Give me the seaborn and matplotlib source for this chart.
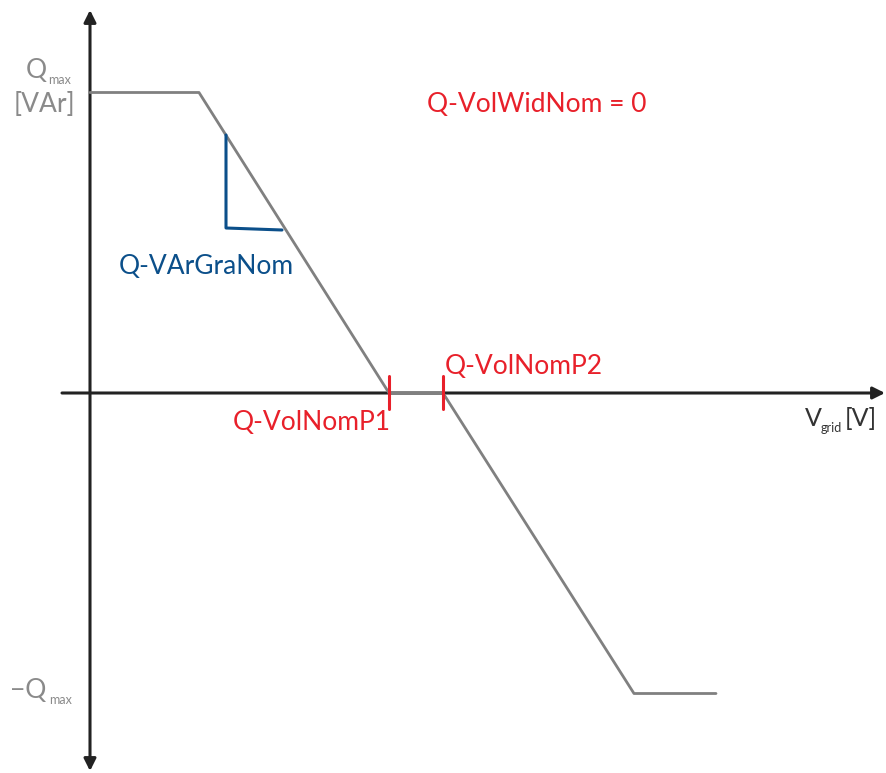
import matplotlib
matplotlib.use("Agg")
import matplotlib.pyplot as plt
import seaborn as sns
import pandas as pd

sns.set_theme(style="white")
plt.rcParams['font.family'] = ['Lato', 'DejaVu Sans']

# Characteristic curve (V in arbitrary units, Q normalized to Qmax)
v_grid = [0, 109, 299, 353, 544, 626]
q_val = [1, 1, 0, 0, -1, -1]
p1_v = 299
p2_v = 353

GREY = "#808080"
RED = "#e8202a"
BLUE = "#0b4f8a"
AX = "#222222"
TXT = "#8a8a8a"

S = 300.5  # pixels per Qmax unit


def px(xp, yp):
    return xp - 90, (393 - yp) / S


fig = plt.figure(figsize=(8.86, 7.73), dpi=100)
ax = fig.add_axes([0, 0, 1, 1])
ax.set_xlim(-90, 796)
ax.set_ylim(-380 / S, 393 / S)
ax.axis("off")

df = pd.DataFrame({"V": v_grid, "Q": q_val})
sns.lineplot(data=df, x="V", y="Q", ax=ax, color=GREY, lw=2.0, sort=False, zorder=3)

# axes with arrows
ax.annotate("", xy=(0, 383 / S), xytext=(0, -378 / S),
            arrowprops=dict(arrowstyle="<|-|>", color=AX, lw=2.2,
                            mutation_scale=18, shrinkA=0, shrinkB=0), zorder=2)
ax.annotate("", xy=(795, 0), xytext=(-28, 0),
            arrowprops=dict(arrowstyle="-|>", color=AX, lw=2.2,
                            mutation_scale=18, shrinkA=0, shrinkB=0), zorder=2)
ax.plot([p1_v, p2_v], [0, 0], color=GREY, lw=2.0, zorder=4)

# red markers
for xv in (p1_v, p2_v):
    ax.plot([xv, xv], [17 / S, -16 / S], color=RED, lw=2.2, zorder=5)

# slope triangle
ax.plot([136, 136, 192], [258 / S, 165 / S, 163 / S], color=BLUE, lw=2.2, zorder=5)

FS = 19
ax.text(*px(206, 266), "Q-VArGraNom", color=BLUE, fontsize=FS, ha="center", va="center")
ax.text(*px(312, 423), "Q-VolNomP1", color=RED, fontsize=FS, ha="center", va="center")
ax.text(*px(445, 366), "Q-VolNomP2", color=RED, fontsize=FS, ha="left", va="center")
ax.text(*px(427, 104), "Q-VolWidNom = 0", color=RED, fontsize=FS, ha="left", va="center")

# axis labels
ax.text(*px(26, 70), "Q", color=TXT, fontsize=19, ha="left", va="center")
ax.text(*px(48, 80), "max", color=TXT, fontsize=9, ha="left", va="center")
ax.text(*px(44, 104), "[VAr]", color=TXT, fontsize=19, ha="center", va="center")
ax.text(*px(10, 690), "\u2212Q", color=TXT, fontsize=19, ha="left", va="center")
ax.text(*px(49, 700), "max", color=TXT, fontsize=9, ha="left", va="center")
ax.text(*px(805, 418), "V", color="#333333", fontsize=18, ha="left", va="center")
ax.text(*px(821, 428), "grid", color="#333333", fontsize=9, ha="left", va="center")
ax.text(*px(845, 418), "[V]", color="#333333", fontsize=18, ha="left", va="center")

fig.savefig("out.png", dpi=100)
